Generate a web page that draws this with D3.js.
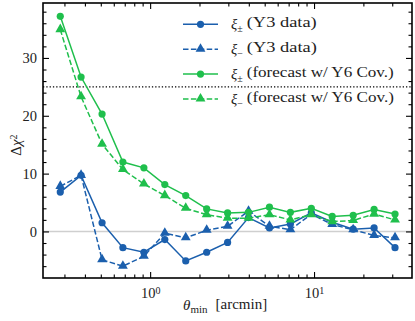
<!DOCTYPE html>
<html>
<head>
<meta charset="utf-8">
<script src="https://cdn.jsdelivr.net/npm/d3@7"></script>
<style>
  body { margin: 0; background: #fff; }
  svg text { font-family: "Liberation Serif", "DejaVu Serif", serif; fill: #222; }
</style>
</head>
<body>
<div id="chart"></div>
<script>
// theta_min bins [arcmin]
var thetaMin = [0.283, 0.379, 0.509, 0.682, 0.916, 1.229, 1.649, 2.213, 2.969,
                3.984, 5.346, 7.173, 9.625, 12.91, 17.33, 23.25, 31.20];

// delta chi2 values
var xiPmY3   = [6.8, 9.7, 1.5, -2.8, -3.6, -1.4, -5.1, -3.6, -1.9, 2.4, 0.6, 1.3, 3.2, 1.6, 0.4, 0.6, -2.8];
var xiMY3    = [7.8, 9.7, -4.9, -6.0, -4.3, -0.3, -1.1, 0.2, 0.9, 3.5, 0.9, 0.3, 3.0, 1.2, 0.3, -0.7, -1.1];
var xiPmY6   = [37.2, 26.7, 20.3, 12.0, 11.0, 8.1, 6.2, 3.9, 3.2, 3.3, 4.2, 3.3, 4.0, 2.6, 2.8, 3.8, 3.0];
var xiMY6    = [34.9, 23.3, 15.1, 10.7, 8.2, 6.2, 4.0, 2.9, 2.3, 2.3, 2.9, 2.0, 2.9, 1.7, 1.9, 3.0, 2.0];

var seriesNames = ["\u00b1 (Y3 data)", "\u2212 (Y3 data)",
                   "\u00b1 (forecast w/ Y6 Cov.)", "\u2212 (forecast w/ Y6 Cov.)"];
var threshold = 25;

var blue = "#1b5fad", green = "#1fbf4c";
var series = [
  { values: xiPmY3, color: blue,  dashed: false, marker: "circle" },
  { values: xiMY3,  color: blue,  dashed: true,  marker: "triangle" },
  { values: xiPmY6, color: green, dashed: false, marker: "circle" },
  { values: xiMY6,  color: green, dashed: true,  marker: "triangle" }
];

// set the dimensions and margins of the graph
var margin = {top: 3, right: 3, bottom: 43, left: 43},
    width = 415 - margin.left - margin.right,
    height = 321 - margin.top - margin.bottom;

var svg = d3.select("#chart")
  .append("svg")
    .attr("width", 415)
    .attr("height", 321)
  .append("g")
    .attr("transform", "translate(" + margin.left + "," + margin.top + ")");

var x = d3.scaleLog().domain([0.222, 39.6]).range([0, width]);
var y = d3.scaleLinear().domain([-8.05, 39.5]).range([height, 0]);

// zero line and threshold
svg.append("line")
  .attr("x1", 0).attr("x2", width)
  .attr("y1", y(0)).attr("y2", y(0))
  .attr("stroke", "#cfcfcf").attr("stroke-width", 1.5);

svg.append("line")
  .attr("x1", 0).attr("x2", width)
  .attr("y1", y(threshold)).attr("y2", y(threshold))
  .attr("stroke", "#000").attr("stroke-width", 1.3)
  .attr("stroke-dasharray", "1.3,2");

var tri = d3.symbol().type(d3.symbolTriangle).size(42);

function drawMarker(g, s, cx, cy) {
  if (s.marker === "circle") {
    g.append("circle").attr("cx", cx).attr("cy", cy).attr("r", 3.6).attr("fill", s.color);
  } else {
    g.append("path").attr("d", tri).attr("transform", "translate(" + cx + "," + (cy - 0.3) + ")")
      .attr("fill", s.color);
  }
}

var line = d3.line()
  .x(function(d, i) { return x(thetaMin[i]); })
  .y(function(d) { return y(d); });

series.forEach(function(s) {
  var g = svg.append("g");
  g.append("path")
    .datum(s.values)
    .attr("d", line)
    .attr("fill", "none")
    .attr("stroke", s.color)
    .attr("stroke-width", 1.5)
    .attr("stroke-dasharray", s.dashed ? "5.5,2.4" : null);
  s.values.forEach(function(v, i) { drawMarker(g, s, x(thetaMin[i]), y(v)); });
});

// axes: ticks inward on all four sides
var yMajor = [0, 10, 20, 30];
var yMinor = d3.range(-6, 40, 2).filter(function(v) { return yMajor.indexOf(v) < 0; });
var xMajor = [1, 10];
var xMinor = [0.3, 0.4, 0.5, 0.6, 0.7, 0.8, 0.9, 2, 3, 4, 5, 6, 7, 8, 9, 20, 30];

function styleAxis(g) {
  g.select(".domain").remove();
  g.selectAll("line").attr("stroke", "#000").attr("stroke-width", 1.1);
}

svg.append("g").call(d3.axisLeft(y).tickValues(yMajor).tickSize(-6).tickPadding(6))
  .call(styleAxis).selectAll("text").style("font-size", "14.5px");
svg.append("g").call(d3.axisLeft(y).tickValues(yMinor).tickSize(-3.5).tickFormat(""))
  .call(styleAxis);
svg.append("g").attr("transform", "translate(" + width + ",0)")
  .call(d3.axisRight(y).tickValues(yMajor).tickSize(-6).tickFormat("")).call(styleAxis);
svg.append("g").attr("transform", "translate(" + width + ",0)")
  .call(d3.axisRight(y).tickValues(yMinor).tickSize(-3.5).tickFormat("")).call(styleAxis);

var xAxis = svg.append("g").attr("transform", "translate(0," + height + ")")
  .call(d3.axisBottom(x).tickValues(xMajor).tickSize(-6).tickPadding(8).tickFormat(""))
  .call(styleAxis);
xAxis.selectAll(".tick text")
  .style("font-size", "14.5px")
  .attr("dy", "0.85em")
  .each(function(d) {
    var t = d3.select(this);
    t.append("tspan").text("10");
    t.append("tspan").attr("dy", "-0.45em").style("font-size", "10px").text(Math.round(Math.log10(d)));
  });
svg.append("g").attr("transform", "translate(0," + height + ")")
  .call(d3.axisBottom(x).tickValues(xMinor).tickSize(-3.5).tickFormat("")).call(styleAxis);
svg.append("g")
  .call(d3.axisTop(x).tickValues(xMajor).tickSize(-6).tickFormat("")).call(styleAxis);
svg.append("g")
  .call(d3.axisTop(x).tickValues(xMinor).tickSize(-3.5).tickFormat("")).call(styleAxis);

// frame
svg.append("rect")
  .attr("width", width).attr("height", height)
  .attr("fill", "none").attr("stroke", "#000").attr("stroke-width", 1.6);

// axis labels
var xl = svg.append("text")
  .attr("x", 183 - margin.left).attr("y", 310 - margin.top)
  .style("font-size", "15px");
xl.append("tspan").style("font-style", "italic").text("\u03b8");
xl.append("tspan").attr("dy", "0.3em").style("font-size", "11px").text("min");
xl.append("tspan").attr("dy", "-0.3em").attr("dx", "8").text("[arcmin]");

var yl = svg.append("text")
  .attr("transform", "translate(" + (21 - margin.left) + "," + (145 - margin.top) + ") rotate(-90)")
  .attr("text-anchor", "middle")
  .style("font-size", "15px");
yl.append("tspan").text("\u0394");
yl.append("tspan").style("font-style", "italic").text("\u03c7");
yl.append("tspan").attr("dy", "-0.45em").style("font-size", "10px").text("2");

// legend
var legend = svg.append("g").attr("transform", "translate(" + (183 - margin.left) + "," + (24.3 - margin.top) + ")");
series.forEach(function(s, i) {
  var row = legend.append("g").attr("transform", "translate(0," + (i * 24.9) + ")");
  row.append("line")
    .attr("x1", 0).attr("x2", 35).attr("y1", 0).attr("y2", 0)
    .attr("stroke", s.color).attr("stroke-width", 1.5)
    .attr("stroke-dasharray", s.dashed ? "5.5,2.4" : null);
  drawMarker(row, s, 17.5, 0);
  var t = row.append("text").attr("x", 48).attr("y", 4.5).style("font-size", "14.5px");
  t.append("tspan").style("font-style", "italic").text("\u03be");
  t.append("tspan").attr("dy", "0.3em").style("font-size", "10px").text(seriesNames[i].charAt(0));
  t.append("tspan").attr("dy", "-0.3em").attr("dx", "4")
    .attr("textLength", i < 2 ? 70 : 147).attr("lengthAdjust", "spacingAndGlyphs")
    .text(seriesNames[i].slice(2));
});
</script>
</body>
</html>
